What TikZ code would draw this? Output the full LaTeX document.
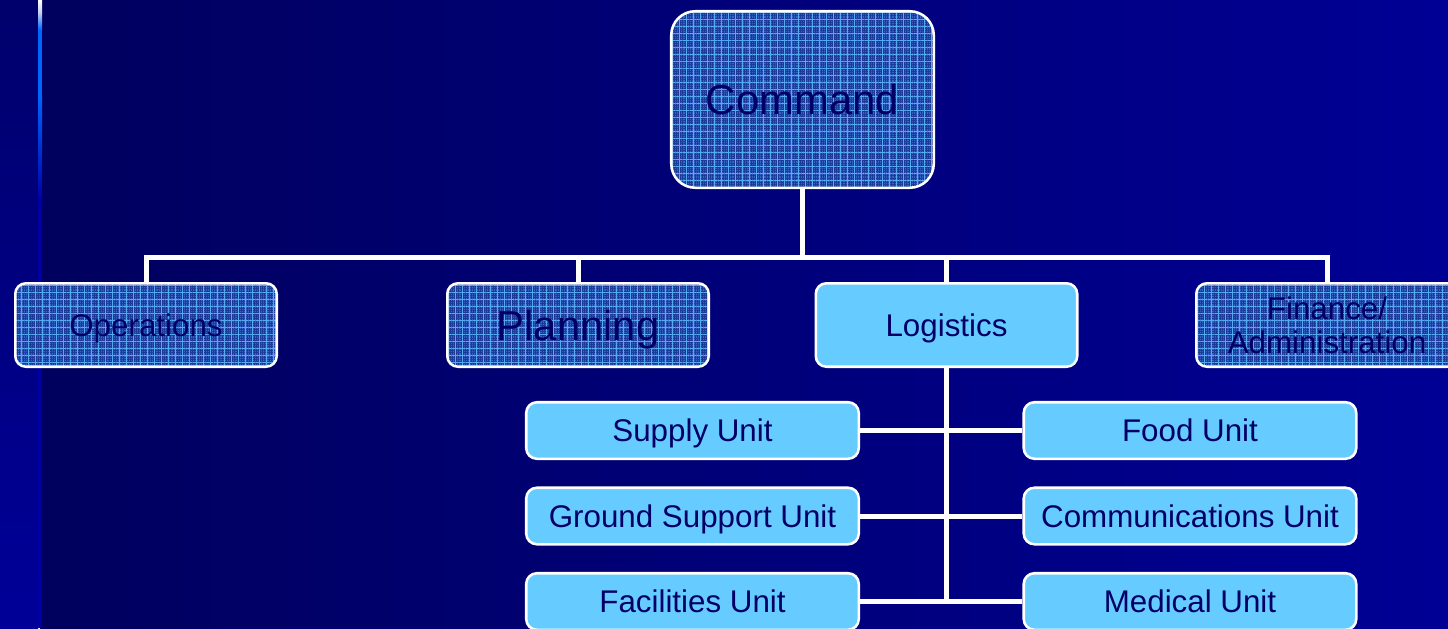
\documentclass[tikz,border=0pt]{standalone}
\usepackage{fontspec}
\setmainfont{Liberation Sans}
\usetikzlibrary{patterns.meta}
\definecolor{txt}{HTML}{000066}
\definecolor{bgleft}{HTML}{00005E}
\definecolor{bgright}{HTML}{000094}
\definecolor{stripTop}{HTML}{00006C}
\definecolor{stripBot}{HTML}{000098}
\definecolor{hatchbase}{HTML}{3463C4}
\definecolor{hatchdark}{HTML}{1C3A98}
\definecolor{hatchlight}{HTML}{58AAF0}
\definecolor{lightbox}{HTML}{66CCFF}
\definecolor{lineBlue}{HTML}{0066FF}
\definecolor{lineDim}{HTML}{0000A2}
\definecolor{lineTop}{HTML}{C8D2F0}
\begin{document}
\begin{tikzpicture}[x=0.75pt,y=-0.75pt,
  conn/.style={draw=white,line width=3.75pt,line join=miter},
  hatchbox/.style={draw=white,line width=1.9pt,rounded corners=8pt,
    preaction={fill=hatchbase},
    preaction={pattern={Hatch[distance=1.6pt,line width=0.45pt]},pattern color=hatchdark},
    preaction={pattern={Hatch[distance=5.25pt,line width=0.7pt]},pattern color=hatchlight},
    text=txt,inner sep=0pt,align=center},
  lvl/.style={minimum width=196.1pt,minimum height=62.6pt},
  small/.style={font=\fontsize{23.5}{25.5}\selectfont,text height=16.9pt,text depth=0pt},
  big/.style={font=\fontsize{31.4}{37}\selectfont,text height=22.6pt,text depth=0pt},
  lightbox/.style={draw=white,line width=1.9pt,rounded corners=8pt,fill=lightbox,
    text=txt,inner sep=0pt},
  unit/.style={lightbox,small,minimum width=249.4pt,minimum height=42.4pt}]
\useasboundingbox (0,0) rectangle (1448,628);
\clip (0,0) rectangle (1448,628);
% background
\shade[left color=bgleft,right color=bgright] (40,0) rectangle (1448,628);
\shade[top color=stripTop,bottom color=stripBot] (0,0) rectangle (38,628);
\shade[top color=white,bottom color=lineTop] (38,0) rectangle (42,12);
\shade[top color=lineTop,bottom color=lineBlue] (38,12) rectangle (42,30);
\fill[lineBlue] (38,30) rectangle (42,95);
\shade[top color=lineBlue,bottom color=lineDim] (38,95) rectangle (42,200);
\fill[lineDim] (38,200) rectangle (42,628);
% nodes
\node[hatchbox,big,rounded corners=18pt,minimum width=196.9pt,minimum height=132.4pt] (cmd) at (802.5,99.5) {Command};
\node[hatchbox,lvl,small] (ops) at (146,325) {Operations};
\node[hatchbox,lvl,big] (plan) at (578,325) {Planning};
\node[lightbox,lvl,small] (log) at (946.5,325) {Logistics};
\node[hatchbox,lvl,font=\fontsize{23.5}{25.5}\selectfont] (fin) at (1327,325) {Finance/\\Administration};
\node[unit] (sup) at (692.5,430.5) {Supply Unit};
\node[unit] (gnd) at (692.5,516) {Ground Support Unit};
\node[unit] (fac) at (692.5,601.5) {Facilities Unit};
\node[unit] (food) at (1190,430.5) {Food Unit};
\node[unit] (com) at (1190,516) {Communications Unit};
\node[unit] (med) at (1190,601.5) {Medical Unit};
% connectors
\coordinate (bus) at (0,257);
\draw[conn] (cmd.south) -- (cmd.south |- bus);
\draw[conn] (ops.north) -- (ops.north |- bus) -- (fin.north |- bus) -- (fin.north);
\draw[conn] (plan.north) -- (plan.north |- bus);
\draw[conn] (log.north) -- (log.north |- bus);
\draw[conn] (log.south) -- (log.south |- med.west);
\draw[conn] (sup.east) -- (food.west);
\draw[conn] (gnd.east) -- (com.west);
\draw[conn] (fac.east) -- (med.west);
\end{tikzpicture}
\end{document}
